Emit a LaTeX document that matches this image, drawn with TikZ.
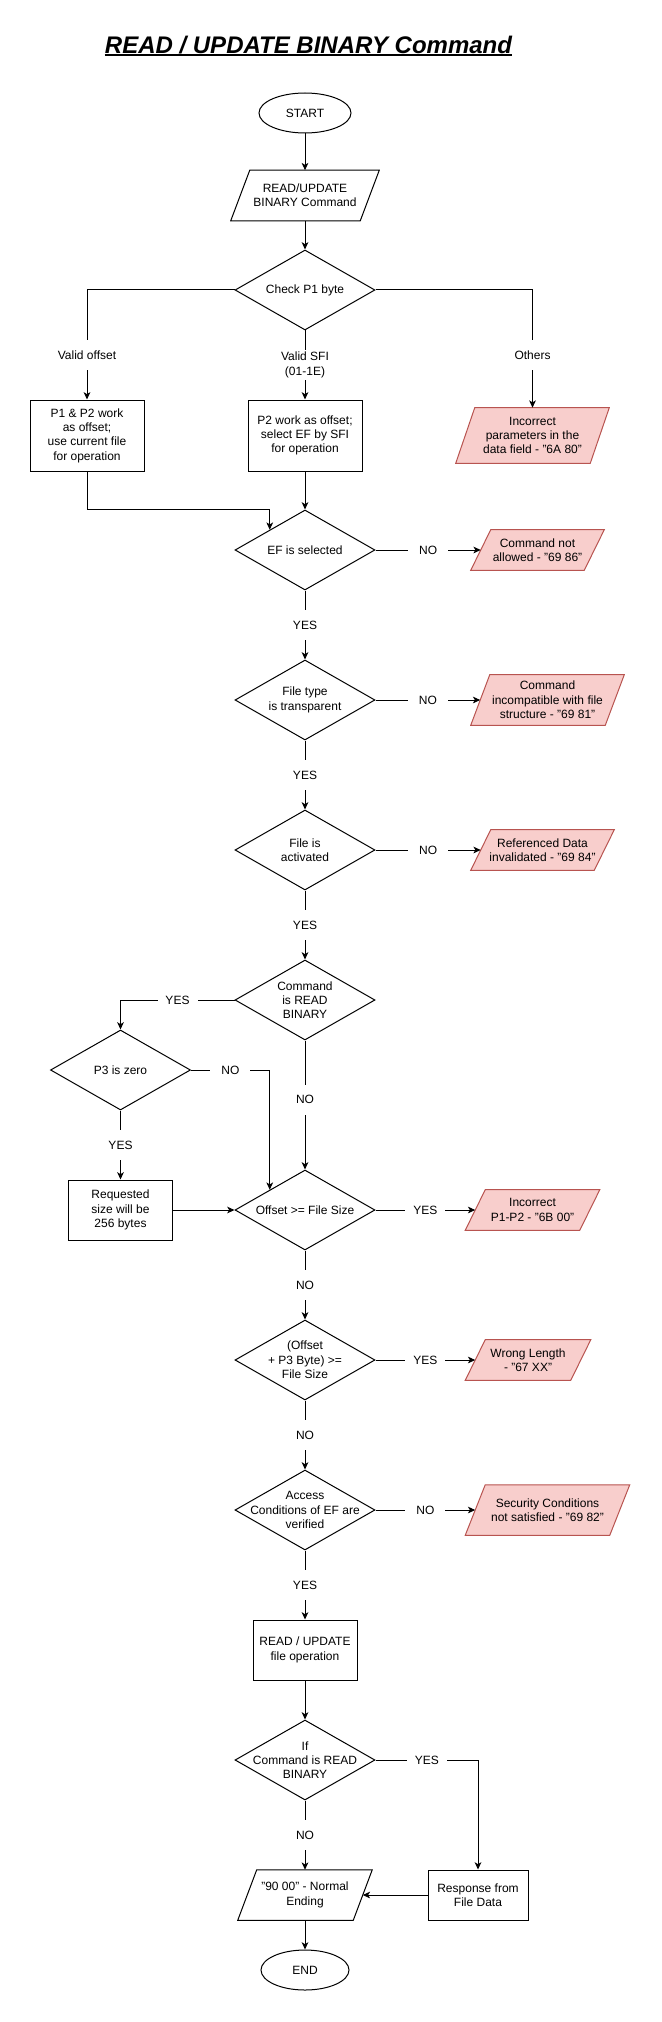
\documentclass[tikz,border=0pt]{standalone}
\usepackage{fontspec}
\setmainfont{Liberation Sans}
\usetikzlibrary{shapes.geometric,arrows.meta,calc}
\pgfdeclarelayer{background}
\pgfsetlayers{background,main}
\definecolor{pinkfill}{HTML}{F8CECC}
\definecolor{pinkline}{HTML}{B85450}
\newcommand\paragram[3]{\filldraw[#3] ($(#1.north west)+(#2/2,0)$) -- ($(#1.north east)+(#2/2,0)$) -- ($(#1.south east)-(#2/2,0)$) -- ($(#1.south west)-(#2/2,0)$) -- cycle;}
\begin{document}
\begin{tikzpicture}[x=0.75pt,y=-0.75pt,
  every node/.style={font=\fontsize{9pt}{10.75pt}\selectfont, align=center, inner sep=0pt},
  base/.style={line width=0.75pt, draw=black, fill=white},
  pinkstyle/.style={line width=0.75pt, draw=pinkline, fill=pinkfill},
  dia/.style={base, diamond, minimum width=105pt, minimum height=60pt},
  box/.style 2 args={base, rectangle, minimum width=#1*0.75pt, minimum height=#2*0.75pt},
  term/.style 2 args={base, ellipse, minimum width=#1*0.75pt, minimum height=#2*0.75pt},
  para/.style 2 args={rectangle, draw=none, fill=none, minimum width=#1*0.75pt, minimum height=#2*0.75pt},
  conn/.style={line width=0.75pt, -{Stealth[length=5.5pt,width=5pt,inset=1.5pt]}},
  lbl/.style={fill=white, minimum width=30pt, minimum height=22.5pt},
]
\useasboundingbox (0,0) rectangle (661,2022);

% title
\node[anchor=base, font=\fontsize{18pt}{22pt}\selectfont\bfseries\itshape] (title) at (308.5,53.3) {READ / UPDATE BINARY Command};
\draw[line width=1.5pt] ([yshift=-1.65pt]title.base west) -- ([yshift=-1.65pt]title.base east);

% shapes
\node[term={92}{40}] (start) at (305,113) {START};
\node[para={129}{50}] (p0) at (305,195.5) {READ/UPDATE\\BINARY Command};
\node[dia] (d1) at (305,290) {};
\node (d1t) at (d1.center) {Check P1 byte};
\node[box={114}{71}] (b1) at (87,435.5) {P1 \& P2 work\\as offset;\\use current file\\for operation};
\node[box={114}{71}] (b2) at (305,435.5) {P2 work as offset;\\select EF by SFI\\for operation};
\node[para={134}{55}] (p1) at (532.5,435.5) {Incorrect\\parameters in the\\data field - "6A 80"};

\node[dia] (d2) at (305,550) {};
\node (d2t) at (d2.center) {EF is selected};
\node[para={113}{40}] (p2) at (537.5,550) {Command not\\allowed - "69 86"};

\node[dia] (d3) at (305,700) {};
\node (d3t) at (d3.center) {File type\\is transparent};
\node[para={134}{50}] (p3) at (547.5,700) {Command\\incompatible with file\\structure - "69 81"};

\node[dia] (d4) at (305,850) {};
\node (d4t) at (d4.center) {File is\\activated};
\node[para={123}{40}] (p4) at (542.5,850) {Referenced Data\\invalidated - "69 84"};

\node[dia] (d5) at (305,1000) {};
\node (d5t) at (d5.center) {Command\\is READ\\BINARY};

\node[dia] (d6) at (120.5,1070) {};
\node (d6t) at (d6.center) {P3 is zero};
\node[box={104}{60}] (b3) at (120.5,1210) {Requested\\size will be\\256 bytes};

\node[dia] (d7) at (305,1210) {};
\node (d7t) at (d7.center) {Offset >= File Size};
\node[para={114}{40}] (p5) at (532.5,1210) {Incorrect\\P1-P2 - "6B 00"};

\node[dia] (d8) at (305,1360) {};
\node (d8t) at (d8.center) {(Offset\\+ P3 Byte) >=\\File Size};
\node[para={105}{40}] (p6) at (528,1360) {Wrong Length\\- "67 XX"};

\node[dia] (d9) at (305,1510) {};
\node (d9t) at (d9.center) {Access\\Conditions of EF are\\verified};
\node[para={144}{50}] (p7) at (547.5,1510) {Security Conditions\\not satisfied - "69 82"};

\node[box={104}{60}] (b4) at (305,1650) {READ / UPDATE\\file operation};

\node[dia] (d10) at (305,1760) {};
\node (d10t) at (d10.center) {If\\Command is READ\\BINARY};

\node[box={100}{50}] (b5) at (478,1895) {Response from\\File Data};
\node[para={115}{50}] (p8) at (305,1895) {"90 00" - Normal\\Ending};
\node[term={88}{40}] (stop) at (305,1970) {END};

% parallelogram outlines
\begin{pgfonlayer}{background}
\paragram{p0}{19}{base}
\paragram{p1}{19}{pinkstyle}
\paragram{p2}{20}{pinkstyle}
\paragram{p3}{19}{pinkstyle}
\paragram{p4}{20}{pinkstyle}
\paragram{p5}{20}{pinkstyle}
\paragram{p6}{20}{pinkstyle}
\paragram{p7}{20}{pinkstyle}
\paragram{p8}{19}{base}
\end{pgfonlayer}

% connectors
\draw[conn] (start) -- (p0);
\draw[conn] (p0) -- (d1);
\draw[conn] (d1.west) -| (b1.north);
\draw[conn] (d1) -- node[lbl] (lsfi) {Valid SFI\\(01-1E)} (b2);
\draw[conn] (d1.east) -| (p1.north);
\node[lbl] (lvo) at (87,355) {Valid offset};
\node[lbl] (loth) at (532.5,355) {Others};

\draw[conn] (b1.south) |- (d2.north west |- d2.north) -- (d2.north west);
\draw[conn] (b2) -- (d2);
\draw[conn] (d2) -- node[lbl] (ln1) {NO} (p2);
\draw[conn] (d2) -- node[lbl] (ly1) {YES} (d3);
\draw[conn] (d3) -- node[lbl] (ln2) {NO} (p3);
\draw[conn] (d3) -- node[lbl] (ly2) {YES} (d4);
\draw[conn] (d4) -- node[lbl] (ln3) {NO} (p4);
\draw[conn] (d4) -- node[lbl] (ly3) {YES} (d5);

\draw[conn] (d5.west) -| node[lbl, pos=0.25] (ly4) {YES} (d6.north);
\draw[conn] (d6.east) -| node[lbl, pos=0.25] (ln4) {NO} (d7.north west);
\draw[conn] (d5) -- node[lbl, pos=0.46] (ln5) {NO} (d7);
\draw[conn] (d6) -- node[lbl] (ly5) {YES} (b3);
\draw[conn] (b3) -- (d7);

\draw[conn] (d7) -- node[lbl] (ly6) {YES} (p5);
\draw[conn] (d7) -- node[lbl] (ln6) {NO} (d8);
\draw[conn] (d8) -- node[lbl] (ly7) {YES} (p6);
\draw[conn] (d8) -- node[lbl] (ln7) {NO} (d9);
\draw[conn] (d9) -- node[lbl] (ln8) {NO} (p7);
\draw[conn] (d9) -- node[lbl] (ly8) {YES} (b4);
\draw[conn] (b4) -- (d10);
\draw[conn] (d10.east) -| node[lbl, pos=0.25] (ly9) {YES} (b5.north);
\draw[conn] (d10) -- node[lbl] (ln9) {NO} (p8);
\draw[conn] (b5) -- (p8);
\draw[conn] (p8) -- (stop);
\end{tikzpicture}
\end{document}
